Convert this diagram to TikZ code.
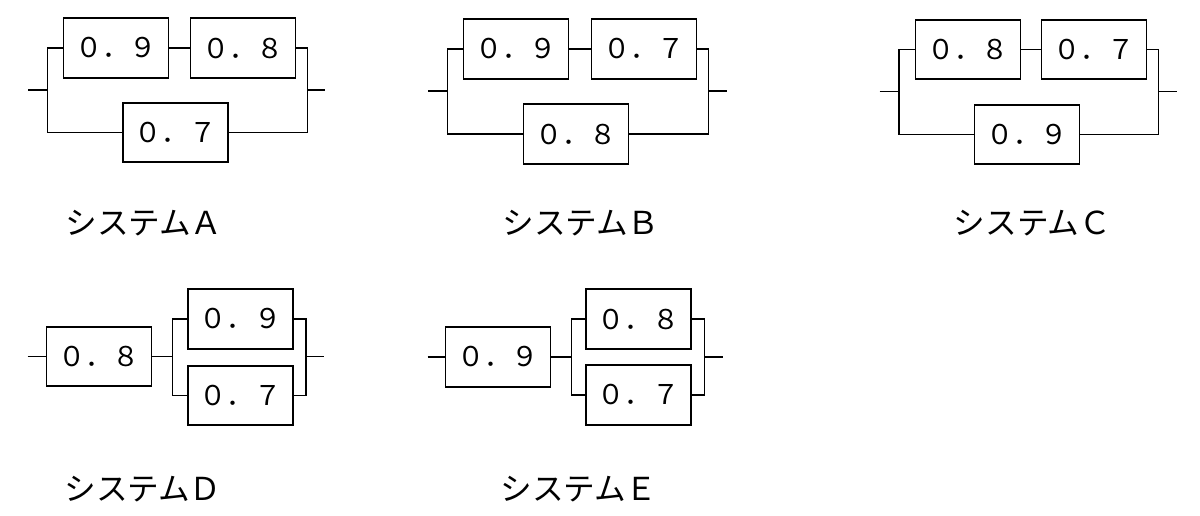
\documentclass[tikz,border=0pt]{standalone}
\usepackage{fontspec}
\newfontfamily\cjk{Noto Sans CJK JP}

\tikzset{
  unit/.style={draw, line width=1.1pt, minimum width=2.1cm, minimum height=1.19cm, inner sep=0pt, font=\cjk\fontsize{15.5}{18}\selectfont},
  wire/.style={line width=0.7pt},
  sysname/.style={font=\cjk\fontsize{18}{21}\selectfont}
}

\begin{document}
\begin{tikzpicture}[x=0.02cm,y=-0.02cm]
\useasboundingbox (0,0) rectangle (1200,516);
% system A
\node[unit] (a1) at (116,48) {０．９};
\node[unit] (a2) at (243,48) {０．８};
\node[unit] (a3) at (175.5,132.5) {０．７};
\coordinate (aL) at (47.5,90);
\coordinate (aR) at (307.5,90);
\coordinate (ain) at (28,90);
\coordinate (aout) at (325,90);
\draw[wire] (a1.east) -- (a2.west);
\draw[wire] (a1.west) -| (aL) |- (a3.west);
\draw[wire] (a2.east) -| (aR) |- (a3.east);
\draw[wire] (ain) -- (aL);
\draw[wire] (aR) -- (aout);
\node[sysname] (la) at (144,223) {システムＡ};
% system B
\node[unit] (b1) at (516,49) {０．９};
\node[unit] (b2) at (644,49) {０．７};
\node[unit] (b3) at (576,134) {０．８};
\coordinate (bL) at (447.5,91);
\coordinate (bR) at (708.5,91);
\coordinate (bin) at (428,91);
\coordinate (bout) at (727,91);
\draw[wire] (b1.east) -- (b2.west);
\draw[wire] (b1.west) -| (bL) |- (b3.west);
\draw[wire] (b2.east) -| (bR) |- (b3.east);
\draw[wire] (bin) -- (bL);
\draw[wire] (bR) -- (bout);
\node[sysname] (lb) at (581,223.5) {システムＢ};
% system C
\node[unit] (c1) at (968,49.5) {０．８};
\node[unit] (c2) at (1094,49.5) {０．７};
\node[unit] (c3) at (1027,134.5) {０．９};
\coordinate (cL) at (899,91.5);
\coordinate (cR) at (1158.5,91.5);
\coordinate (cin) at (879.5,91.5);
\coordinate (cout) at (1177,91.5);
\draw[wire] (c1.east) -- (c2.west);
\draw[wire] (c1.west) -| (cL) |- (c3.west);
\draw[wire] (c2.east) -| (cR) |- (c3.east);
\draw[wire] (cin) -- (cL);
\draw[wire] (cR) -- (cout);
\node[sysname] (lc) at (1032.5,223) {システムＣ};
% system D
\node[unit] (d1) at (99,356.5) {０．８};
\node[unit] (d2) at (240.5,319) {０．９};
\node[unit] (d3) at (240.5,395.5) {０．７};
\coordinate (dL) at (172.5,356.5);
\coordinate (dR) at (306,356.5);
\coordinate (din) at (27.5,356.5);
\coordinate (dout) at (324,356.5);
\draw[wire] (din) -- (d1.west);
\draw[wire] (d1.east) -- (dL);
\draw[wire] (d2.west) -| (dL) |- (d3.west);
\draw[wire] (d2.east) -| (dR) |- (d3.east);
\draw[wire] (dR) -- (dout);
\node[sysname] (ld) at (143,489) {システムＤ};
% system E
\node[unit] (e1) at (498,357) {０．９};
\node[unit] (e2) at (638.5,319) {０．８};
\node[unit] (e3) at (638.5,395) {０．７};
\coordinate (eL) at (571.5,357);
\coordinate (eR) at (704.5,357);
\coordinate (ein) at (427.5,357);
\coordinate (eout) at (722.5,357);
\draw[wire] (ein) -- (e1.west);
\draw[wire] (e1.east) -- (eL);
\draw[wire] (e2.west) -| (eL) |- (e3.west);
\draw[wire] (e2.east) -| (eR) |- (e3.east);
\draw[wire] (eR) -- (eout);
\node[sysname] (le) at (579,489) {システムＥ};
\end{tikzpicture}
\end{document}
